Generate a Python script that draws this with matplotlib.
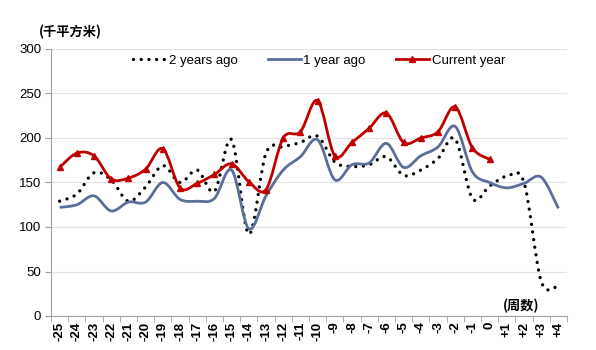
# -*- coding: utf-8 -*-

import numpy as np
import matplotlib
matplotlib.use("Agg")
import matplotlib.pyplot as plt
from matplotlib.path import Path
from matplotlib.patches import PathPatch
from matplotlib.lines import Line2D

plt.rcParams['font.family'] = ['Liberation Sans', 'Noto Sans CJK SC', 'DejaVu Sans']

# 周数ラベル (-25 ~ 0, +1 ~ +4)
weeks = [str(w) for w in range(-25, 1)] + ['+1', '+2', '+3', '+4']

# 千平方米
two_years_ago = [129, 137, 161, 153, 129, 145, 169, 150, 164, 140,
                 198, 92, 183, 190, 195, 202, 173, 168, 170, 179,
                 158, 164, 177, 199, 132, 146, 157, 150, 39, 34]
one_year_ago = [122, 125, 135, 118, 128, 128, 150, 131, 129, 132,
                164, 98, 135, 164, 179, 198, 153, 170, 172, 194,
                167, 180, 190, 213, 162, 150, 144, 149, 156, 121]
current_year = [167, 183, 180, 154, 155, 165, 188, 144, 149, 159,
                171, 151, 142, 200, 207, 242, 180, 195, 211, 228,
                195, 200, 207, 235, 189, 176]

RED = '#C00000'
BLUE = '#5B6E99'


def smooth_path(xs, ys):
    # Excel風のスムージング線 (Catmull-Rom -> ベジェ)
    pts = np.column_stack([xs, ys]).astype(float)
    verts = [pts[0]]
    codes = [Path.MOVETO]
    n = len(pts)
    for i in range(n - 1):
        p0 = pts[max(i - 1, 0)]
        p1 = pts[i]
        p2 = pts[i + 1]
        p3 = pts[min(i + 2, n - 1)]
        verts += [p1 + (p2 - p0) / 6.0, p2 - (p3 - p1) / 6.0, p2]
        codes += [Path.CURVE4] * 3
    return Path(verts, codes)


fig = plt.figure(figsize=(5.96, 3.5), dpi=100)
ax = fig.add_axes([51 / 596, 1 - 316 / 350, 516 / 596, 267 / 350])

x_all = np.arange(len(weeks))

ax.add_patch(PathPatch(smooth_path(x_all, two_years_ago), fill=False,
                       edgecolor='black', lw=2.4, linestyle=(0, (0.01, 2.3)),
                       capstyle='round', zorder=3))
ax.add_patch(PathPatch(smooth_path(x_all, one_year_ago), fill=False,
                       edgecolor=BLUE, lw=2.0, zorder=4))
x_cur = np.arange(len(current_year))
ax.add_patch(PathPatch(smooth_path(x_cur, current_year), fill=False,
                       edgecolor=RED, lw=2.0, zorder=5))
ax.plot(x_cur, current_year, linestyle='none', marker='^', ms=5,
        color=RED, zorder=6)

ax.set_xlim(-0.5, len(weeks) - 0.5)
ax.set_ylim(0, 300)
ax.set_yticks(range(0, 301, 50))
ax.set_xticks(x_all)
ax.set_xticklabels(weeks, rotation=90, fontsize=9.5, fontweight='bold')
ax.set_xticks(np.arange(-0.5, len(weeks), 1), minor=True)
ax.tick_params(axis='x', which='major', length=0, pad=4)
ax.tick_params(axis='x', which='minor', length=4, color='#A0A0A0')
ax.tick_params(axis='y', length=4, color='#A0A0A0', labelsize=9.5, pad=3)

ax.grid(axis='y', color='#E4E4E4', lw=0.9)
ax.set_axisbelow(True)
for s in ['top', 'right']:
    ax.spines[s].set_visible(False)
ax.spines['left'].set_color('#A0A0A0')
ax.spines['bottom'].set_color('#A0A0A0')

handles = [
    Line2D([], [], color='black', lw=2.4, linestyle=(0, (0.01, 2.3)),
           dash_capstyle='round'),
    Line2D([], [], color=BLUE, lw=2.0),
    Line2D([], [], color=RED, lw=2.0, marker='^', ms=5),
]
fig.legend(handles, ['2 years ago', '1 year ago', 'Current year'],
           loc='center', bbox_to_anchor=(319 / 596, 1 - 61 / 350), ncol=3,
           frameon=False, fontsize=9.5, handlelength=2.5, handletextpad=0.2,
           columnspacing=2.3)

fig.text(39 / 596, 1 - 32 / 350, '(千平方米)', fontsize=9.5, fontweight='bold',
         family=['Noto Sans CJK SC'], va='center', ha='left')
fig.text(503 / 596, 1 - 306 / 350, '(周数)', fontsize=9.5, fontweight='bold',
         family=['Noto Sans CJK SC'], va='center', ha='left')

plt.savefig('out.png', dpi=100)
